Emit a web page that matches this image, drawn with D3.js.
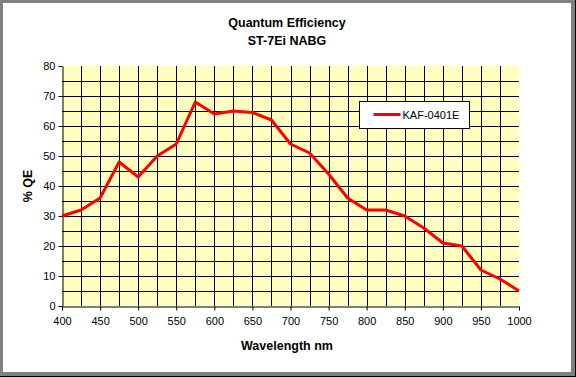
<!DOCTYPE html>
<html>
<head>
<meta charset="utf-8">
<script src="https://cdn.jsdelivr.net/npm/d3@7"></script>
<style>
  body { margin: 0; background: #fff; }
  text { font-family: Arial, "Liberation Sans", sans-serif; }
  .tick text { font-size: 11px; fill: #000; }
  .title { font-size: 12.5px; font-weight: bold; }
  .label { font-size: 12.5px; font-weight: bold; }
</style>
</head>
<body>
<svg id="chart" width="576" height="377"></svg>
<script>
const w = 576, h = 377;
const margins = { top: 66, right: 55, bottom: 71, left: 62 };

// data
const wavelengths = [400, 425, 450, 475, 500, 525, 550, 575, 600, 625, 650, 675,
  700, 725, 750, 775, 800, 825, 850, 875, 900, 925, 950, 975, 1000];
const qe = [30, 32, 36, 48, 43, 50, 54, 68, 64, 65, 64.5, 62,
  54, 51, 44, 36, 32, 32, 30, 26, 21, 20, 12, 9, 5];
const xTicks = [400, 450, 500, 550, 600, 650, 700, 750, 800, 850, 900, 950, 1000];
const yTicks = [0, 10, 20, 30, 40, 50, 60, 70, 80];
const seriesName = 'KAF-0401E';

const chart = d3.select('#chart');

// frame with shadow
chart.append('rect').attr('width', w).attr('height', h).attr('fill', '#808080');
chart.append('rect').attr('x', 575).attr('y', 0).attr('width', 1).attr('height', h).attr('fill', '#000');
chart.append('rect').attr('x', 0).attr('y', 376).attr('width', w).attr('height', 1).attr('fill', '#000');
chart.append('rect').attr('x', 3).attr('y', 3).attr('width', 568).attr('height', 369).attr('fill', '#fff');

const xScale = d3.scaleLinear()
  .domain([400, 1000])
  .range([margins.left, w - margins.right - 2]);

const yScale = d3.scaleLinear()
  .domain([0, 80])
  .range([h - margins.bottom, margins.top]);

// plot area
chart.append('rect')
  .attr('x', xScale(400)).attr('y', yScale(80))
  .attr('width', xScale(1000) - xScale(400))
  .attr('height', yScale(0) - yScale(80))
  .attr('fill', '#ffffc0');

// grid lines every 25 nm and 5 %
const grid = chart.append('g').attr('stroke', '#000').attr('stroke-width', 1);
grid.selectAll('.vg')
  .data(d3.range(425, 1000, 25))
  .join('line')
  .attr('x1', d => Math.round(xScale(d)) + 0.5)
  .attr('x2', d => Math.round(xScale(d)) + 0.5)
  .attr('y1', yScale(80))
  .attr('y2', yScale(0));
grid.selectAll('.hg')
  .data(d3.range(5, 80, 5))
  .join('line')
  .attr('y1', d => Math.round(yScale(d)) + 0.5)
  .attr('y2', d => Math.round(yScale(d)) + 0.5)
  .attr('x1', xScale(400))
  .attr('x2', xScale(1000));

// axes
const xAxis = d3.axisBottom(xScale).tickValues(xTicks).tickFormat(d3.format('d'))
  .tickSize(4).tickPadding(7).tickSizeOuter(0);
const yAxis = d3.axisLeft(yScale).tickValues(yTicks).tickFormat(d3.format('d'))
  .tickSize(4).tickPadding(3).tickSizeOuter(0);

chart.append('g')
  .attr('transform', `translate(0, ${Math.round(yScale(0)) + 0.5})`)
  .call(xAxis)
  .call(g => g.select('.domain').attr('stroke', '#000'))
  .call(g => g.selectAll('.tick line').attr('stroke', '#000'))
  .call(g => g.selectAll('text').attr('font-family', 'Arial, "Liberation Sans", sans-serif'));

chart.append('g')
  .attr('transform', `translate(${Math.round(xScale(400)) + 0.5}, 0)`)
  .call(yAxis)
  .call(g => g.select('.domain').attr('stroke', '#000'))
  .call(g => g.selectAll('.tick line').attr('stroke', '#000'))
  .call(g => g.selectAll('text').attr('font-family', 'Arial, "Liberation Sans", sans-serif'));

// series line
const line = d3.line()
  .x((d, i) => xScale(wavelengths[i]))
  .y(d => yScale(d));

chart.append('path')
  .datum(qe)
  .attr('d', line)
  .attr('fill', 'none')
  .attr('stroke', '#ff0000')
  .attr('stroke-width', 3)
  .attr('stroke-linejoin', 'round');

// titles
chart.append('text').attr('class', 'title')
  .attr('x', 287).attr('y', 27).attr('text-anchor', 'middle')
  .text('Quantum Efficiency');
chart.append('text').attr('class', 'title')
  .attr('x', 287).attr('y', 45).attr('text-anchor', 'middle')
  .text('ST-7Ei NABG');

chart.append('text').attr('class', 'label')
  .attr('x', 287).attr('y', 350).attr('text-anchor', 'middle')
  .text('Wavelength nm');
chart.append('text').attr('class', 'label')
  .attr('transform', `translate(32, ${(yScale(0) + yScale(80)) / 2}) rotate(-90)`)
  .attr('text-anchor', 'middle')
  .text('% QE');

// legend
const legend = chart.append('g').attr('transform', 'translate(359.5, 101.5)');
legend.append('rect')
  .attr('width', 110).attr('height', 27)
  .attr('fill', '#fff').attr('stroke', '#000');
legend.append('line')
  .attr('x1', 14).attr('x2', 41).attr('y1', 13).attr('y2', 13)
  .attr('stroke', '#ff0000').attr('stroke-width', 3);
legend.append('text')
  .attr('x', 43).attr('y', 17)
  .attr('font-size', '11px')
  .text(seriesName);
</script>
</body>
</html>
